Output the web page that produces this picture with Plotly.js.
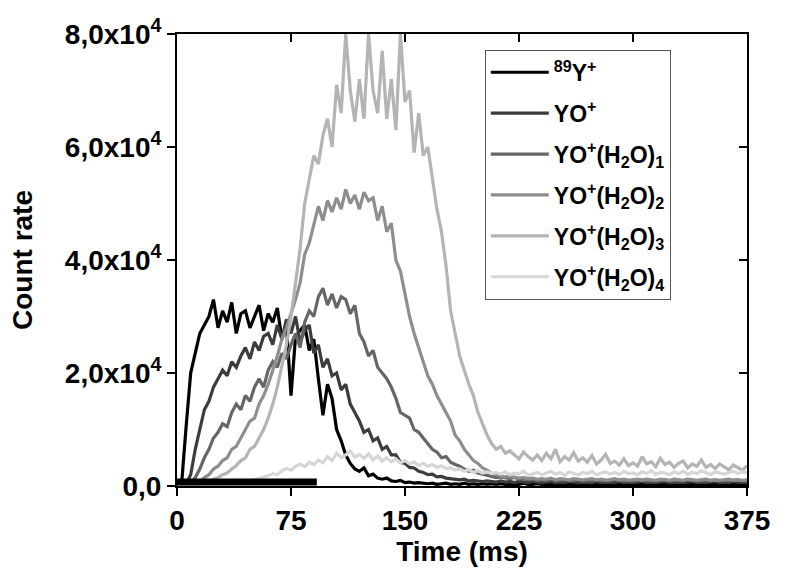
<!DOCTYPE html>
<html>
<head>
<meta charset="utf-8">
<script src="https://cdn.plot.ly/plotly-3.0.1.min.js"></script>
<style>
  html, body { margin: 0; padding: 0; background: #fff; }
  #plot { width: 789px; height: 582px; }
</style>
</head>
<body>
<div id="plot"></div>
<script>
"use strict";

// Sampling grid of the time traces (ms): 0, 3, 6 ... 375
const T_START = 0, T_STEP = 3, T_COUNT = 126;

// Count rates in thousands of counts, one value per time sample.
const Y89_K = [
    0.3, 0.3, 10.5, 20, 23.5, 27, 28.5, 30, 33, 28,
    31, 29, 32.5, 27, 30.5, 31, 28, 30, 32, 27.5,
    30.5, 29, 31.5, 26, 28.5, 16, 26.5, 27.5, 28.5, 24,
    26, 19, 12.5, 18, 15.5, 10, 8, 5.5, 4, 3,
    2.6, 3.2, 1.8, 2.1, 1.4, 1.2, 1.4, 0.9, 0.8, 1.0,
    0.6, 0.7, 0.5, 0.6, 0.5, 0.4, 0.5, 0.3, 0.4, 0.5,
    0.3, 0.4, 0.3, 0.5, 0.3, 0.4, 0.3, 0.4, 0.3, 0.4,
    0.3, 0.4, 0.3, 0.3, 0.4, 0.3, 0.5, 0.3, 0.3, 0.4,
    0.3, 0.3, 0.4, 0.3, 0.3, 0.4, 0.3, 0.3, 0.4, 0.3,
    0.3, 0.4, 0.3, 0.3, 0.4, 0.3, 0.3, 0.4, 0.3, 0.3,
    0.4, 0.3, 0.3, 0.4, 0.3, 0.3, 0.4, 0.3, 0.3, 0.4,
    0.3, 0.3, 0.4, 0.3, 0.3, 0.4, 0.3, 0.3, 0.4, 0.3,
    0.3, 0.4, 0.3, 0.3, 0.4, 0.3
];
const YO_K = [
    0.3, 0.3, 0.4, 2, 6.5, 10, 13.5, 15, 17.5, 19,
    20.5, 19.5, 22, 21, 23, 24.5, 22.5, 25.5, 24, 26.5,
    27, 25, 28.5, 26, 29.5, 27, 30, 25.5, 27.5, 28.5,
    23.5, 25, 21, 22.5, 19.5, 20, 17, 18, 14.5, 13,
    11.5, 9.5, 10, 8, 8.5, 6.5, 7, 5.5, 5.5, 4.2,
    4, 3.3, 3.2, 2.6, 2.4, 2, 2.1, 1.6, 1.7, 1.4,
    1.3, 1.2, 1.1, 1.2, 0.9, 1.0, 0.9, 0.8, 0.9, 0.8,
    0.7, 0.9, 0.7, 0.8, 0.6, 0.8, 0.7, 0.6, 0.8, 0.7,
    0.6, 0.7, 0.8, 0.6, 0.7, 0.6, 0.8, 0.7, 0.6, 0.7,
    0.7, 0.6, 0.8, 0.6, 0.7, 0.7, 0.6, 0.8, 0.6, 0.7,
    0.6, 0.7, 0.8, 0.6, 0.7, 0.6, 0.7, 0.8, 0.6, 0.7,
    0.7, 0.6, 0.7, 0.8, 0.6, 0.7, 0.6, 0.7, 0.8, 0.6,
    0.7, 0.6, 0.8, 0.6, 0.7, 0.6
];
const YO_W1_K = [
    0.3, 0.3, 0.3, 0.5, 1.5, 3, 5, 6.5, 8.5, 9.5,
    11, 10.5, 13, 14.5, 13.5, 16, 15, 17.5, 19, 17.5,
    20.5, 22, 21, 23.5, 22.5, 25, 27, 24.5, 29, 31,
    30, 33.5, 35, 32, 34, 31.5, 33.5, 33, 30.5, 32,
    27, 25.5, 23, 24, 21, 20, 19, 17.5, 15.5, 13,
    12.5, 12, 10, 9.5, 8.5, 7.5, 6.5, 6, 5, 5.2,
    4.2, 3.8, 3.5, 3, 2.6, 2.8, 2.3, 2.1, 1.9, 1.7,
    1.5, 1.6, 1.4, 1.3, 1.5, 1.2, 1.3, 1.1, 1.2, 1.0,
    1.1, 1.0, 1.2, 0.9, 1.0, 1.1, 0.9, 1.0, 1.1, 0.9,
    1.0, 0.9, 1.1, 0.9, 1.0, 0.9, 1.1, 1.0, 0.9, 1.0,
    0.9, 1.0, 1.1, 0.9, 1.0, 0.9, 1.0, 1.1, 0.9, 1.0,
    1.0, 0.9, 1.1, 1.0, 0.9, 1.0, 1.0, 0.9, 1.1, 0.9,
    1.0, 0.9, 1.0, 1.1, 0.9, 1.0
];
const YO_W2_K = [
    0.3, 0.3, 0.3, 0.3, 0.4, 0.8, 1.5, 2, 3, 3.5,
    4.5, 5, 6.5, 7, 8.5, 10, 11.5, 12, 14.5, 16,
    18, 20.5, 23, 26, 28, 30.5, 33, 36, 41, 43,
    46, 49.5, 47, 50.5, 48.5, 51, 49, 52.5, 50, 51.5,
    49, 52, 50.5, 51, 47, 49.5, 45, 46.5, 40, 38,
    34, 30, 27, 24.5, 22, 19.5, 18, 16, 14.5, 13,
    11.5, 9, 8, 6.5, 5.5, 4.5, 4, 3.2, 2.8, 2.2,
    2, 1.8, 1.6, 1.7, 1.5, 1.4, 1.5, 1.3, 1.4, 1.2,
    1.3, 1.2, 1.4, 1.1, 1.3, 1.2, 1.1, 1.3, 1.2, 1.1,
    1.2, 1.3, 1.1, 1.2, 1.0, 1.2, 1.3, 1.1, 1.2, 1.0,
    1.1, 1.2, 1.0, 1.2, 1.1, 1.0, 1.2, 1.1, 1.0, 1.2,
    1.1, 1.0, 1.2, 1.1, 1.0, 1.1, 1.2, 1.0, 1.1, 1.0,
    1.1, 1.2, 1.0, 1.1, 1.0, 1.1
];
const YO_W3_K = [
    0.3, 0.3, 0.3, 0.3, 0.3, 0.3, 0.5, 0.7, 1.2, 1.5,
    2, 2.3, 3, 3.6, 4.5, 5, 6.5, 7, 8.5, 10,
    12, 14.5, 17.5, 21, 25, 30, 36, 42, 50, 54,
    58.5, 57, 62, 65, 60, 71, 66, 80, 70, 64.5,
    72, 65, 80, 70, 66, 77, 65, 72, 63, 80,
    68, 70, 59, 66, 58.5, 60, 54, 49, 45, 39,
    31, 27, 23, 20.5, 18, 16, 13, 11, 9, 7.5,
    6.5, 7, 5.8, 6.2, 5.5, 4.8, 6, 5.2, 4.6, 5.5,
    4.5, 5.8, 4.8, 6.5, 4.3, 5.2, 4.6, 5.9, 4.4, 5,
    4.2, 5.4, 3.9, 4.6, 5.6, 4, 4.4, 3.7, 4.8, 3.6,
    4.1, 3.5, 5.2, 3.9, 4.3, 3.4, 4.9, 3.8, 4.2, 3.3,
    4, 4.4, 3.2, 3.9, 3.5, 4.6, 3.3, 3.8, 3.1, 3.9,
    3.4, 2.9, 3.7, 3.2, 2.8, 3.6
];
const YO_W4_K = [
    0.3, 0.3, 0.3, 0.3, 0.3, 0.3, 0.3, 0.3, 0.3, 0.3,
    0.3, 0.4, 0.4, 0.5, 0.6, 0.7, 0.9, 1.1, 1.3, 1.5,
    1.8, 2.2, 2.0, 2.7, 3.1, 2.8, 3.5, 3.9, 3.4, 4.2,
    3.8, 4.6, 4.1, 5.2, 4.5, 5.8, 5.0, 5.5, 6.2, 5.1,
    5.6, 4.9, 5.7, 4.6, 5.3, 4.4, 5.0, 4.3, 4.8, 4.1,
    4.5, 3.9, 4.3, 3.6, 4.0, 3.5, 3.8, 3.3, 3.6, 3.1,
    3.2, 2.8, 3.0, 2.6, 2.9, 2.4, 2.7, 2.3, 2.5, 2.2,
    2.4, 2.1, 2.5, 2.0, 2.3, 2.1, 2.6, 1.9, 2.2, 2.4,
    2.0, 2.3, 2.6, 2.1, 2.4, 1.9, 2.5, 2.2, 2.0, 2.4,
    2.2, 2.6, 2.0, 2.3, 2.5, 2.1, 2.4, 2.0, 2.6, 2.2,
    2.3, 2.0, 2.5, 2.2, 2.7, 2.1, 2.4, 2.3, 2.0, 2.5,
    2.2, 2.6, 2.1, 2.4, 2.2, 2.7, 2.3, 2.0, 2.5, 2.3,
    2.1, 2.4, 2.6, 2.2, 2.5, 2.3
];

// Thick black bar along the baseline (0 .. 92 ms)
const PULSE_T = [0, 92];
const PULSE_Y = [700, 700];

const SERIES_NAMES = [
    "<sup>89</sup>Y<sup>+</sup>",
    "YO<sup>+</sup>",
    "YO<sup>+</sup>(H<sub>2</sub>O)<sub>1</sub>",
    "YO<sup>+</sup>(H<sub>2</sub>O)<sub>2</sub>",
    "YO<sup>+</sup>(H<sub>2</sub>O)<sub>3</sub>",
    "YO<sup>+</sup>(H<sub>2</sub>O)<sub>4</sub>",
];
const SERIES_K = [Y89_K, YO_K, YO_W1_K, YO_W2_K, YO_W3_K, YO_W4_K];
const GREYS = ["#000000", "#3c3c3c", "#666666", "#8e8e8e", "#b4b4b4", "#d6d6d6"];

const X_TICKS = [0, 75, 150, 225, 300, 375];
const Y_TICKS = [0, 20000, 40000, 60000, 80000];
const Y_TICKTEXT = ["0,0", "2,0x10<sup>4</sup>", "4,0x10<sup>4</sup>", "6,0x10<sup>4</sup>", "8,0x10<sup>4</sup>"];

const FONT = "Liberation Sans, Arial, Helvetica, sans-serif";

const times = [];
for (let i = 0; i < T_COUNT; i++) times.push(T_START + i * T_STEP);

const traces = SERIES_K.map((vals, si) => ({
    x: times, y: vals.map(v => v * 1000),
    type: "scatter", mode: "lines",
    name: SERIES_NAMES[si],
    legendgroup: "g" + si,   // one group per entry -> tracegroupgap spaces the rows
    line: { color: GREYS[si], width: 3.2 },
    hoverinfo: "skip",
}));
traces.push({
    x: PULSE_T, y: PULSE_Y, type: "scatter", mode: "lines",
    line: { color: "#000", width: 7 }, showlegend: false, hoverinfo: "skip",
});
// empty trace that carries the inward-pointing mirror axes
traces.push({ x: [], y: [], xaxis: "x2", yaxis: "y2", showlegend: false, hoverinfo: "skip" });

const layout = {
    width: 789, height: 582,
    margin: { l: 177, r: 42, t: 34, b: 96 },
    paper_bgcolor: "#fff", plot_bgcolor: "#fff",
    font: { family: FONT, color: "#000" },
    showlegend: true,
    legend: {
        x: 0.54, xanchor: "left", y: 0.965, yanchor: "top",
        bgcolor: "#fff", bordercolor: "#555", borderwidth: 1,
        font: { family: FONT, size: 23, weight: "bold", color: "#000" },
        itemwidth: 58, tracegroupgap: 8,
    },
    xaxis: {
        range: [0, 375], tickvals: X_TICKS, ticktext: X_TICKS.map(String),
        ticks: "outside", ticklen: 8, tickwidth: 2, tickcolor: "#000",
        showline: true, linewidth: 2, linecolor: "#000", mirror: true,
        showgrid: false, zeroline: false,
        tickfont: { family: FONT, size: 28, weight: "bold" },
        title: { text: "Time (ms)", font: { family: FONT, size: 28, weight: "bold" }, standoff: 7 },
    },
    yaxis: {
        range: [0, 80000], tickvals: Y_TICKS, ticktext: Y_TICKTEXT,
        ticks: "outside", ticklen: 8, tickwidth: 2, tickcolor: "#000",
        showline: true, linewidth: 2, linecolor: "#000", mirror: true,
        showgrid: false, zeroline: false,
        tickfont: { family: FONT, size: 28, weight: "bold" },
        title: { text: "Count rate", font: { family: FONT, size: 28, weight: "bold" }, standoff: 24 },
    },
    xaxis2: {
        overlaying: "x", side: "top", anchor: "y2", range: [0, 375], tickvals: X_TICKS,
        ticks: "inside", ticklen: 8, tickwidth: 2, tickcolor: "#000",
        showticklabels: false, showline: false, showgrid: false, zeroline: false,
    },
    yaxis2: {
        overlaying: "y", side: "right", anchor: "x2", range: [0, 80000], tickvals: Y_TICKS,
        ticks: "inside", ticklen: 8, tickwidth: 2, tickcolor: "#000",
        showticklabels: false, showline: false, showgrid: false, zeroline: false,
    },
};

Plotly.newPlot("plot", traces, layout, { displayModeBar: false, staticPlot: true });
</script>
</body>
</html>
